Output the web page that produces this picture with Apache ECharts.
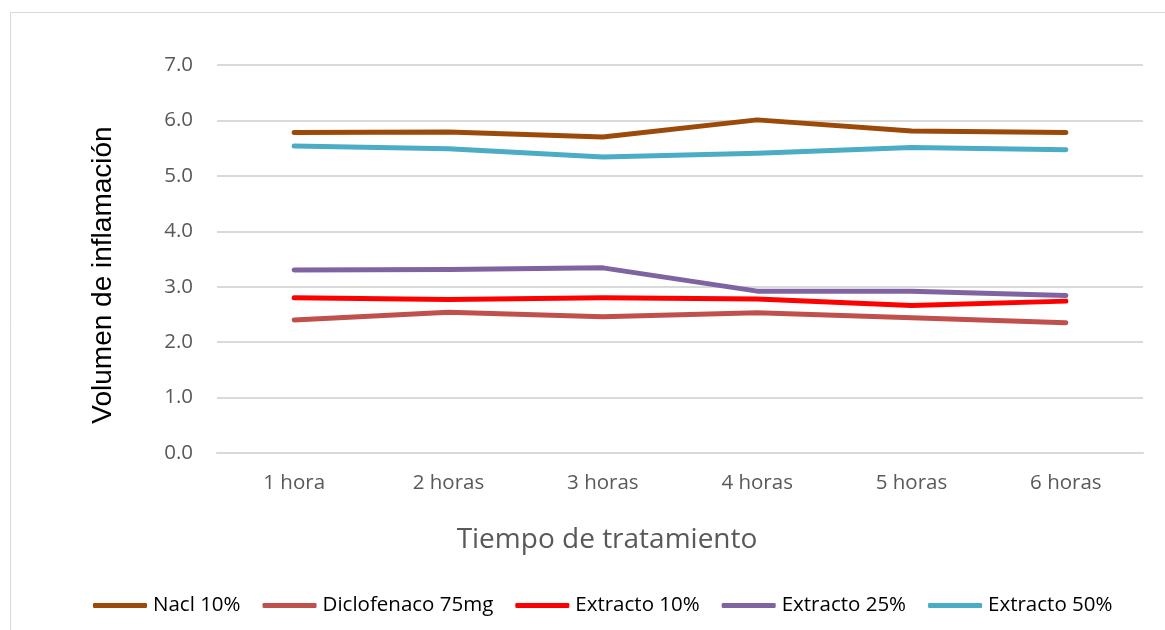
<!DOCTYPE html>
<html>
<head>
<meta charset="utf-8">
<script src="https://cdn.jsdelivr.net/npm/echarts@6/dist/echarts.min.js"></script>
<style>html,body{margin:0;padding:0;background:#fff}#c{width:1165px;height:630px}</style>
</head>
<body>
<div id="c"></div>
<script>
const categories = ['1 hora', '2 horas', '3 horas', '4 horas', '5 horas', '6 horas'];
const nacl10 = [5.78, 5.79, 5.70, 6.01, 5.81, 5.78];
const diclofenaco75 = [2.40, 2.54, 2.46, 2.53, 2.44, 2.35];
const extracto10 = [2.80, 2.77, 2.80, 2.78, 2.66, 2.74];
const extracto25 = [3.30, 3.31, 3.34, 2.92, 2.92, 2.84];
const extracto50 = [5.54, 5.49, 5.34, 5.41, 5.51, 5.47];
const seriesNames = ['Nacl 10%', 'Diclofenaco 75mg', 'Extracto 10%', 'Extracto 25%', 'Extracto 50%'];
const colors = ['#9C4A0A', '#C0504D', '#FF0000', '#8064A2', '#4BACC6'];
const yTicks = { min: 0, max: 7, interval: 1 };
const xTitle = 'Tiempo de tratamiento';
const yTitle = 'Volumen de inflamación';

const chart = echarts.init(document.getElementById('c'), null, { renderer: 'canvas' });
const dataSets = [nacl10, diclofenaco75, extracto10, extracto25, extracto50];
chart.setOption({
  animation: false,
  backgroundColor: '#fff',
  graphic: [
    { type: 'rect', left: 8, top: 10, shape: { width: 1165, height: 640 },
      style: { fill: 'none', stroke: '#d9d9d9', lineWidth: 1 }, z: -1 },
    { type: 'text', x: 607, y: 540,
      style: { text: xTitle, fontFamily: 'Open Sans', fontSize: 28, fill: '#595959',
        align: 'center', verticalAlign: 'middle' } },
    { type: 'text', x: 103, y: 275, rotation: Math.PI / 2,
      style: { text: yTitle, fontFamily: 'Liberation Sans', fontSize: 28, fill: '#000',
        align: 'center', verticalAlign: 'middle' } }
  ],
  grid: { left: 217, right: 22, top: 65, bottom: 177 },
  legend: {
    bottom: 9, left: 88,
    itemWidth: 54, itemHeight: 5, itemGap: 22,
    icon: 'roundRect',
    textStyle: { fontFamily: 'Open Sans', fontSize: 20.5, color: '#000', padding: [0, 0, 0, 1] },
    data: seriesNames
  },
  xAxis: {
    type: 'category', data: categories, boundaryGap: true,
    axisLine: { show: true, lineStyle: { color: '#d9d9d9', width: 2 } },
    axisTick: { show: false },
    axisLabel: { fontFamily: 'Open Sans', fontSize: 20.5, color: '#595959', margin: 20 }
  },
  yAxis: {
    type: 'value', min: yTicks.min, max: yTicks.max, interval: yTicks.interval,
    axisLine: { show: false }, axisTick: { show: false },
    axisLabel: { fontFamily: 'Open Sans', fontSize: 20.5, color: '#595959', margin: 24,
      formatter: v => v.toFixed(1) },
    splitLine: { lineStyle: { color: '#d9d9d9', width: 2 } }
  },
  series: seriesNames.map((n, i) => ({
    name: n, type: 'line', data: dataSets[i],
    showSymbol: false, symbol: 'none',
    color: colors[i],
    lineStyle: { color: colors[i], width: 5, cap: 'round', join: 'round' }
  }))
});
</script>
</body>
</html>
